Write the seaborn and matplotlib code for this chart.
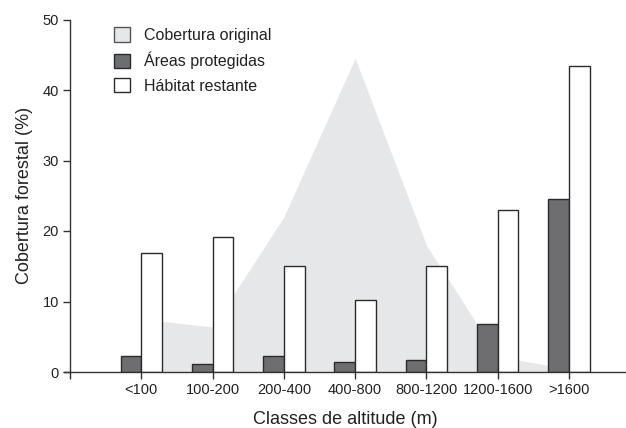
import seaborn as sns
import matplotlib.pyplot as plt
import pandas as pd
from matplotlib.patches import Patch

# altitude classes and values (%)
classes = ["<100", "100-200", "200-400", "400-800", "800-1200", "1200-1600", ">1600"]
cobertura_original = [7.5, 6.4, 22.0, 44.5, 18.0, 2.2, 0.4]
areas_protegidas = [2.3, 1.2, 2.3, 1.4, 1.7, 6.8, 24.6]
habitat_restante = [16.9, 19.1, 15.0, 10.2, 15.0, 23.0, 43.4]

sns.set_style("ticks")
plt.rcParams["font.family"] = ["Liberation Sans", "DejaVu Sans"]

# long table for the bars
df = pd.DataFrame({
    "Classe": classes * 2,
    "Valor": areas_protegidas + habitat_restante,
    "Serie": ["Áreas protegidas"] * 7 + ["Hábitat restante"] * 7,
})

fig = plt.figure(figsize=(6.26, 4.28), dpi=100)
ax = fig.add_axes([64 / 626, 1 - 372 / 428, 562 / 626, (372 - 19.5) / 428])

# original coverage as a filled shape behind the bars
ax.fill_between(range(len(classes)), cobertura_original, color="#e6e7e8", lw=0, zorder=0.5)

sns.barplot(data=df, x="Classe", y="Valor", hue="Serie", order=classes,
            palette={"Áreas protegidas": "#6d6e71", "Hábitat restante": "white"},
            width=0.58, edgecolor="#2b2b2b", linewidth=1.0, ax=ax, legend=False, zorder=2)

ax.set_xlim(-1.084, 6.8)
ax.set_ylim(0, 50)
ax.spines["left"].set_position(("data", -1))
ax.spines["top"].set_visible(False)
ax.spines["right"].set_visible(False)
for s in ["left", "bottom"]:
    ax.spines[s].set_color("#333333")
    ax.spines[s].set_linewidth(1.0)
    ax.spines[s].set_zorder(3)

ax.set_xticks(range(-1, 7))
ax.set_xticklabels([""] + classes, fontsize=10.5, color="#222222")
ax.set_yticks(range(0, 51, 10))
ax.set_yticklabels([str(v) for v in range(0, 51, 10)], fontsize=10.5, color="#222222")
ax.tick_params(direction="out", length=5, width=1, color="#333333", pad=3)

ax.set_xlabel("Classes de altitude (m)", fontsize=13, labelpad=10, color="#222222")
ax.set_ylabel("Cobertura forestal (%)", fontsize=13, labelpad=7, color="#222222")

handles = [
    Patch(facecolor="#e6e7e8", edgecolor="#555555", label="Cobertura original"),
    Patch(facecolor="#6d6e71", edgecolor="#2b2b2b", label="Áreas protegidas"),
    Patch(facecolor="white", edgecolor="#2b2b2b", label="Hábitat restante"),
]
leg = fig.legend(handles=handles, loc="upper left", bbox_to_anchor=(100 / 626, 1 - 13 / 428),
                 frameon=False, fontsize=11.5, handlelength=1.0, handleheight=1.0,
                 labelspacing=0.55, handletextpad=0.85)
for t in leg.get_texts():
    t.set_color("#222222")

fig.savefig("out.png", dpi=100)
